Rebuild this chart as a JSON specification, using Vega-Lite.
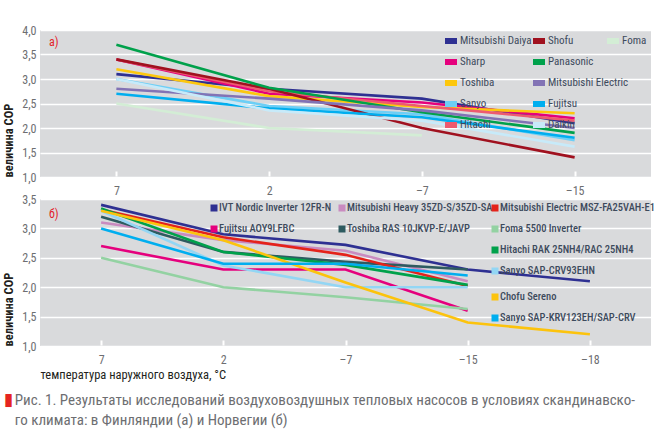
{
  "$schema": "https://vega.github.io/schema/vega-lite/v6.json",
  "background": "white",
  "padding": {"left": 2, "top": 24, "right": 8, "bottom": 4},
  "datasets": {
    "fin": [
      {"brand": "Mitsubishi Daiya", "t": "7", "cop": 3.1},
      {"brand": "Mitsubishi Daiya", "t": "2", "cop": 2.8},
      {"brand": "Mitsubishi Daiya", "t": "–7", "cop": 2.6},
      {"brand": "Mitsubishi Daiya", "t": "–15", "cop": 2.1},
      {"brand": "Sharp", "t": "7", "cop": 3.4},
      {"brand": "Sharp", "t": "2", "cop": 2.7},
      {"brand": "Sharp", "t": "–7", "cop": 2.52},
      {"brand": "Sharp", "t": "–15", "cop": 2.2},
      {"brand": "Toshiba", "t": "7", "cop": 3.2},
      {"brand": "Toshiba", "t": "2", "cop": 2.65},
      {"brand": "Toshiba", "t": "–7", "cop": 2.43},
      {"brand": "Toshiba", "t": "–15", "cop": 2.3},
      {"brand": "Sanyo", "t": "7", "cop": 3.0},
      {"brand": "Sanyo", "t": "2", "cop": 2.45},
      {"brand": "Sanyo", "t": "–7", "cop": 2.28},
      {"brand": "Sanyo", "t": "–15", "cop": 1.75},
      {"brand": "Hitachi", "t": "7", "cop": 3.4},
      {"brand": "Hitachi", "t": "2", "cop": 2.75},
      {"brand": "Hitachi", "t": "–7", "cop": 2.45},
      {"brand": "Hitachi", "t": "–15", "cop": 2.15},
      {"brand": "Shofu", "t": "7", "cop": 3.4},
      {"brand": "Shofu", "t": "2", "cop": 2.8},
      {"brand": "Shofu", "t": "–7", "cop": 2.0},
      {"brand": "Shofu", "t": "–15", "cop": 1.4},
      {"brand": "Panasonic", "t": "7", "cop": 3.7},
      {"brand": "Panasonic", "t": "2", "cop": 2.82},
      {"brand": "Panasonic", "t": "–7", "cop": 2.32},
      {"brand": "Panasonic", "t": "–15", "cop": 1.9},
      {"brand": "Mitsubishi Electric", "t": "7", "cop": 2.8},
      {"brand": "Mitsubishi Electric", "t": "2", "cop": 2.6},
      {"brand": "Mitsubishi Electric", "t": "–7", "cop": 2.36},
      {"brand": "Mitsubishi Electric", "t": "–15", "cop": 2.0},
      {"brand": "Fujitsu", "t": "7", "cop": 2.7},
      {"brand": "Fujitsu", "t": "2", "cop": 2.4},
      {"brand": "Fujitsu", "t": "–7", "cop": 2.22},
      {"brand": "Fujitsu", "t": "–15", "cop": 1.8},
      {"brand": "Daikin", "t": "7", "cop": 3.0},
      {"brand": "Daikin", "t": "2", "cop": 2.36},
      {"brand": "Daikin", "t": "–7", "cop": 2.15},
      {"brand": "Daikin", "t": "–15", "cop": 1.62},
      {"brand": "Foma", "t": "7", "cop": 2.5},
      {"brand": "Foma", "t": "2", "cop": 2.0},
      {"brand": "Foma", "t": "–7", "cop": 1.85}
    ],
    "nor": [
      {"brand": "IVT Nordic Inverter 12FR-N", "t": "7", "cop": 3.4},
      {"brand": "IVT Nordic Inverter 12FR-N", "t": "2", "cop": 2.9},
      {"brand": "IVT Nordic Inverter 12FR-N", "t": "–7", "cop": 2.72},
      {"brand": "IVT Nordic Inverter 12FR-N", "t": "–15", "cop": 2.3},
      {"brand": "IVT Nordic Inverter 12FR-N", "t": "–18", "cop": 2.1},
      {"brand": "Fujitsu AOY9LFBC", "t": "7", "cop": 2.7},
      {"brand": "Fujitsu AOY9LFBC", "t": "2", "cop": 2.3},
      {"brand": "Fujitsu AOY9LFBC", "t": "–7", "cop": 2.3},
      {"brand": "Fujitsu AOY9LFBC", "t": "–15", "cop": 1.6},
      {"brand": "Mitsubishi Heavy 35ZD-S/35ZD-SA", "t": "7", "cop": 3.1},
      {"brand": "Mitsubishi Heavy 35ZD-S/35ZD-SA", "t": "2", "cop": 2.8},
      {"brand": "Mitsubishi Heavy 35ZD-S/35ZD-SA", "t": "–7", "cop": 2.62},
      {"brand": "Mitsubishi Heavy 35ZD-S/35ZD-SA", "t": "–15", "cop": 2.1},
      {"brand": "Toshiba RAS 10JKVP-E/JAVP", "t": "7", "cop": 3.2},
      {"brand": "Toshiba RAS 10JKVP-E/JAVP", "t": "2", "cop": 2.6},
      {"brand": "Toshiba RAS 10JKVP-E/JAVP", "t": "–7", "cop": 2.43},
      {"brand": "Toshiba RAS 10JKVP-E/JAVP", "t": "–15", "cop": 2.3},
      {"brand": "Mitsubishi Electric MSZ-FA25VAH-E1", "t": "7", "cop": 3.32},
      {"brand": "Mitsubishi Electric MSZ-FA25VAH-E1", "t": "2", "cop": 2.85},
      {"brand": "Mitsubishi Electric MSZ-FA25VAH-E1", "t": "–7", "cop": 2.55},
      {"brand": "Mitsubishi Electric MSZ-FA25VAH-E1", "t": "–15", "cop": 2.02},
      {"brand": "Foma 5500 Inverter", "t": "7", "cop": 2.5},
      {"brand": "Foma 5500 Inverter", "t": "2", "cop": 2.0},
      {"brand": "Foma 5500 Inverter", "t": "–7", "cop": 1.83},
      {"brand": "Foma 5500 Inverter", "t": "–15", "cop": 1.63},
      {"brand": "Hitachi RAK 25NH4/RAC 25NH4", "t": "7", "cop": 3.34},
      {"brand": "Hitachi RAK 25NH4/RAC 25NH4", "t": "2", "cop": 2.6},
      {"brand": "Hitachi RAK 25NH4/RAC 25NH4", "t": "–7", "cop": 2.38},
      {"brand": "Hitachi RAK 25NH4/RAC 25NH4", "t": "–15", "cop": 2.04},
      {"brand": "Sanyo SAP-CRV93EHN", "t": "7", "cop": 3.3},
      {"brand": "Sanyo SAP-CRV93EHN", "t": "2", "cop": 2.37},
      {"brand": "Sanyo SAP-CRV93EHN", "t": "–7", "cop": 2.0},
      {"brand": "Sanyo SAP-CRV93EHN", "t": "–15", "cop": 2.0},
      {"brand": "Chofu Sereno", "t": "7", "cop": 3.3},
      {"brand": "Chofu Sereno", "t": "2", "cop": 2.8},
      {"brand": "Chofu Sereno", "t": "–7", "cop": 2.08},
      {"brand": "Chofu Sereno", "t": "–15", "cop": 1.4},
      {"brand": "Chofu Sereno", "t": "–18", "cop": 1.2},
      {"brand": "Sanyo SAP-KRV123EH/SAP-CRV", "t": "7", "cop": 3.0},
      {"brand": "Sanyo SAP-KRV123EH/SAP-CRV", "t": "2", "cop": 2.4},
      {"brand": "Sanyo SAP-KRV123EH/SAP-CRV", "t": "–7", "cop": 2.4},
      {"brand": "Sanyo SAP-KRV123EH/SAP-CRV", "t": "–15", "cop": 2.2}
    ],
    "zone": [{"from": "2", "to": "–7"}]
  },
  "title": {
    "text": "▮",
    "subtitle": ["\u2800Рис. 1. Результаты исследований воздуховоздушных тепловых насосов в условиях скандинавско-", "\u2800го климата: в Финляндии (а) и Норвегии (б)"],
    "orient": "bottom",
    "anchor": "start",
    "frame": "bounds",
    "font": "DejaVu Sans",
    "fontSize": 17,
    "fontWeight": "normal",
    "color": "#e52421",
    "subtitleFontSize": 15,
    "subtitleColor": "#6d6e71",
    "subtitleLineHeight": 20,
    "subtitlePadding": -16,
    "dx": 1,
    "offset": 11
  },
  "spacing": -3,
  "vconcat": [
    {
      "width": 611,
      "height": 147,
      "title": {"text": "а)", "anchor": "start", "frame": "group", "offset": -25, "dx": 9, "color": "#e3222a", "fontSize": 12, "fontWeight": "normal"},
      "data": {"name": "fin"},
      "encoding": {
        "x": {
          "field": "t", "type": "ordinal",
          "scale": {"type": "point", "domain": ["7", "2", "–7", "–15"], "padding": 0.5},
          "axis": {"title": null}
        },
        "y": {
          "field": "cop", "type": "quantitative",
          "scale": {"domain": [1, 4]},
          "axis": {"values": [1, 1.5, 2, 2.5, 3, 3.5, 4], "title": "величина COP"}
        }
      },
      "layer": [
        {
          "data": {"name": "zone"},
          "mark": {"type": "rect", "color": "#e4145a", "blend": "screen", "xOffset": 26, "x2Offset": -28},
          "encoding": {
            "x": {"field": "from", "type": "ordinal"},
            "x2": {"field": "to"},
            "y": {"datum": 4},
            "y2": {"datum": 1}
          }
        },
        {
          "transform": [{"filter": {"field": "brand", "oneOf": ["Mitsubishi Daiya", "Sharp", "Toshiba", "Sanyo", "Hitachi"]}}],
          "mark": {"type": "line", "strokeWidth": 2.6},
          "encoding": {
            "color": {
              "field": "brand", "type": "nominal",
              "scale": {"domain": ["Mitsubishi Daiya", "Sharp", "Toshiba", "Sanyo", "Hitachi"], "range": ["#2e3092", "#e5007d", "#fdc70d", "#6ccff6", "#ee5a6f"]},
              "legend": {"orient": "none", "legendX": 402, "legendY": 2}
            }
          }
        },
        {
          "transform": [{"filter": {"field": "brand", "oneOf": ["Shofu", "Panasonic", "Mitsubishi Electric", "Fujitsu", "Daikin"]}}],
          "mark": {"type": "line", "strokeWidth": 2.6},
          "encoding": {
            "color": {
              "field": "brand", "type": "nominal",
              "scale": {"domain": ["Shofu", "Panasonic", "Mitsubishi Electric", "Fujitsu", "Daikin"], "range": ["#a0111f", "#00a14b", "#8273b5", "#00aeef", "#c7eaf9"]},
              "legend": {"orient": "none", "legendX": 490, "legendY": 2}
            }
          }
        },
        {
          "transform": [{"filter": {"field": "brand", "equal": "Foma"}}],
          "mark": {"type": "line", "strokeWidth": 2.6},
          "encoding": {
            "color": {
              "field": "brand", "type": "nominal",
              "scale": {"domain": ["Foma"], "range": ["#d3edd5"]},
              "legend": {"orient": "none", "legendX": 564, "legendY": 2}
            }
          }
        }
      ],
      "resolve": {"scale": {"color": "independent"}}
    },
    {
      "width": 611,
      "height": 147,
      "title": {"text": "б)", "anchor": "start", "frame": "group", "offset": -28, "dx": 9, "color": "#e3222a", "fontSize": 12, "fontWeight": "normal"},
      "data": {"name": "nor"},
      "encoding": {
        "x": {
          "field": "t", "type": "ordinal",
          "scale": {"type": "point", "domain": ["7", "2", "–7", "–15", "–18"], "padding": 0.5},
          "axis": {"title": "температура наружного воздуха, °C"}
        },
        "y": {
          "field": "cop", "type": "quantitative",
          "scale": {"domain": [1, 3.5]},
          "axis": {"values": [1, 1.5, 2, 2.5, 3, 3.5], "title": "величина COP"}
        }
      },
      "layer": [
        {
          "transform": [{"filter": {"field": "brand", "oneOf": ["IVT Nordic Inverter 12FR-N", "Fujitsu AOY9LFBC"]}}],
          "mark": {"type": "line", "strokeWidth": 2.6},
          "encoding": {
            "color": {
              "field": "brand", "type": "nominal",
              "scale": {"domain": ["IVT Nordic Inverter 12FR-N", "Fujitsu AOY9LFBC"], "range": ["#2e3092", "#e5007d"]},
              "legend": {"orient": "none", "legendX": 167, "legendY": 2, "symbolSize": 49, "symbolStrokeWidth": 7, "rowPadding": -16, "labelOffset": -2, "labelFontSize": 10.5, "labelFontWeight": 500}
            }
          }
        },
        {
          "transform": [{"filter": {"field": "brand", "oneOf": ["Mitsubishi Heavy 35ZD-S/35ZD-SA", "Toshiba RAS 10JKVP-E/JAVP"]}}],
          "mark": {"type": "line", "strokeWidth": 2.6},
          "encoding": {
            "color": {
              "field": "brand", "type": "nominal",
              "scale": {"domain": ["Mitsubishi Heavy 35ZD-S/35ZD-SA", "Toshiba RAS 10JKVP-E/JAVP"], "range": ["#c98bc0", "#2e5b60"]},
              "legend": {"orient": "none", "legendX": 295, "legendY": 2, "symbolSize": 49, "symbolStrokeWidth": 7, "rowPadding": -16, "labelOffset": -2, "labelFontSize": 10.5, "labelFontWeight": 500}
            }
          }
        },
        {
          "transform": [{"filter": {"field": "brand", "oneOf": ["Mitsubishi Electric MSZ-FA25VAH-E1", "Foma 5500 Inverter", "Hitachi RAK 25NH4/RAC 25NH4", "Sanyo SAP-CRV93EHN"]}}],
          "mark": {"type": "line", "strokeWidth": 2.6},
          "encoding": {
            "color": {
              "field": "brand", "type": "nominal",
              "scale": {"domain": ["Mitsubishi Electric MSZ-FA25VAH-E1", "Foma 5500 Inverter", "Hitachi RAK 25NH4/RAC 25NH4", "Sanyo SAP-CRV93EHN"], "range": ["#e4231b", "#93d2a2", "#00a14b", "#93d6f4"]},
              "legend": {"orient": "none", "legendX": 448, "legendY": 2, "symbolSize": 49, "symbolStrokeWidth": 7, "rowPadding": -16, "labelOffset": -2, "labelFontSize": 10.5, "labelFontWeight": 500}
            }
          }
        },
        {
          "transform": [{"filter": {"field": "brand", "oneOf": ["Chofu Sereno", "Sanyo SAP-KRV123EH/SAP-CRV"]}}],
          "mark": {"type": "line", "strokeWidth": 2.6},
          "encoding": {
            "color": {
              "field": "brand", "type": "nominal",
              "scale": {"domain": ["Chofu Sereno", "Sanyo SAP-KRV123EH/SAP-CRV"], "range": ["#fcc30d", "#00aeef"]},
              "legend": {"orient": "none", "legendX": 448, "legendY": 91, "symbolSize": 49, "symbolStrokeWidth": 7, "rowPadding": -16, "labelOffset": -2, "labelFontSize": 10.5, "labelFontWeight": 500}
            }
          }
        }
      ],
      "resolve": {"scale": {"color": "independent"}}
    }
  ],
  "config": {
    "font": "Roboto Condensed, Roboto, sans-serif",
    "view": {"fill": "#d9dadc", "stroke": null},
    "title": {"subtitleFont": "Roboto Condensed, Roboto, sans-serif"},
    "axisY": {
      "grid": true, "gridColor": "white", "gridWidth": 1.5,
      "domain": false, "ticks": false,
      "labelExpr": "replace(format(datum.value, '.1f'), '.', ',')",
      "labelColor": "#6d6e71", "labelFontSize": 12, "labelPadding": 4,
      "titleFontSize": 12.5, "titleColor": "#231f20", "titleFontWeight": "bold",
      "titleAnchor": "start", "titlePadding": 6
    },
    "axisX": {
      "grid": false, "domain": false, "offset": -6,
      "tickColor": "white", "tickSize": 5, "tickWidth": 2,
      "labelAngle": 0, "labelColor": "#6d6e71", "labelFontSize": 12, "labelPadding": 9,
      "titleFontSize": 12.5, "titleColor": "#231f20", "titleFontWeight": "normal",
      "titleAnchor": "start", "titlePadding": 3
    },
    "legend": {
      "title": null,
      "symbolType": "stroke", "symbolSize": 144, "symbolStrokeWidth": 6,
      "labelFontSize": 11, "labelColor": "#3d4a5c", "labelOffset": 0,
      "rowPadding": -11.5
    }
  }
}
